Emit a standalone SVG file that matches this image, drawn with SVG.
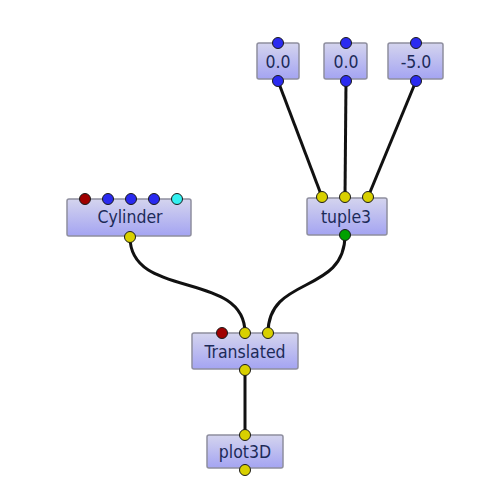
<svg xmlns="http://www.w3.org/2000/svg" width="500" height="500" viewBox="0 0 500 500">
<defs>
<linearGradient id="g" x1="0" y1="0" x2="0" y2="1">
<stop offset="0" stop-color="#d4d4ee"/>
<stop offset="1" stop-color="#a4a4f2"/>
</linearGradient>
<style>
.box{fill:url(#g);stroke:#8e8e9e;stroke-width:1.5}
.t{font-family:"DejaVu Sans Condensed","DejaVu Sans",sans-serif;font-size:17.5px;fill:#1c2a58;text-anchor:middle}
.p{stroke:#1a1a1a;stroke-width:1}
.b{fill:#2a2af0}.r{fill:#a00000}.y{fill:#d8d000}.c{fill:#33f0f0}.gr{fill:#00a000}
.e{fill:none;stroke:#111;stroke-width:3}
</style>
</defs>
<rect width="500" height="500" fill="#fff"/>
<g id="connectors">
<path class="e" d="M278,81 L322,197"/>
<path class="e" d="M346,81 L345,197"/>
<path class="e" d="M416,81 L368,197"/>
<path class="e" d="M130,237 C130,300 245,270 245,333"/>
<path class="e" d="M345,235 C345,295 268,275 268,333"/>
<path class="e" d="M245,370 L245,435"/>
</g>
<g id="n1"><rect class="box" x="257" y="43" width="42" height="36" rx="2"/><text class="t" x="278" y="68">0.0</text><circle class="p b" cx="278" cy="43" r="5.5"/><circle class="p b" cx="278" cy="81" r="5.5"/></g>
<g id="n2"><rect class="box" x="324" y="43" width="43" height="36" rx="2"/><text class="t" x="346" y="68">0.0</text><circle class="p b" cx="346" cy="43" r="5.5"/><circle class="p b" cx="346" cy="81" r="5.5"/></g>
<g id="n3"><rect class="box" x="388" y="43" width="55" height="36" rx="2"/><text class="t" x="416" y="68">-5.0</text><circle class="p b" cx="416" cy="43" r="5.5"/><circle class="p b" cx="416" cy="81" r="5.5"/></g>
<g id="cylinder"><rect class="box" x="67" y="199" width="124" height="37" rx="2"/><text class="t" x="130" y="223">Cylinder</text>
<circle class="p r" cx="85" cy="199" r="5.5"/><circle class="p b" cx="108" cy="199" r="5.5"/><circle class="p b" cx="131" cy="199" r="5.5"/><circle class="p b" cx="154" cy="199" r="5.5"/><circle class="p c" cx="177" cy="199" r="5.5"/><circle class="p y" cx="130" cy="237" r="5.5"/></g>
<g id="tuple3"><rect class="box" x="307" y="198" width="80" height="37" rx="2"/><text class="t" x="346" y="223">tuple3</text>
<circle class="p y" cx="322" cy="197" r="5.5"/><circle class="p y" cx="345" cy="197" r="5.5"/><circle class="p y" cx="368" cy="197" r="5.5"/><circle class="p gr" cx="345" cy="235" r="5.5"/></g>
<g id="translated"><rect class="box" x="192" y="333" width="106" height="36" rx="2"/><text class="t" x="245" y="358">Translated</text>
<circle class="p r" cx="222" cy="333" r="5.5"/><circle class="p y" cx="245" cy="333" r="5.5"/><circle class="p y" cx="268" cy="333" r="5.5"/><circle class="p y" cx="245" cy="370" r="5.5"/></g>
<g id="plot3D"><rect class="box" x="207" y="435" width="76" height="33" rx="2"/><text class="t" x="245" y="458">plot3D</text>
<circle class="p y" cx="245" cy="435" r="5.5"/><circle class="p y" cx="245" cy="470" r="5.5"/></g>
</svg>
